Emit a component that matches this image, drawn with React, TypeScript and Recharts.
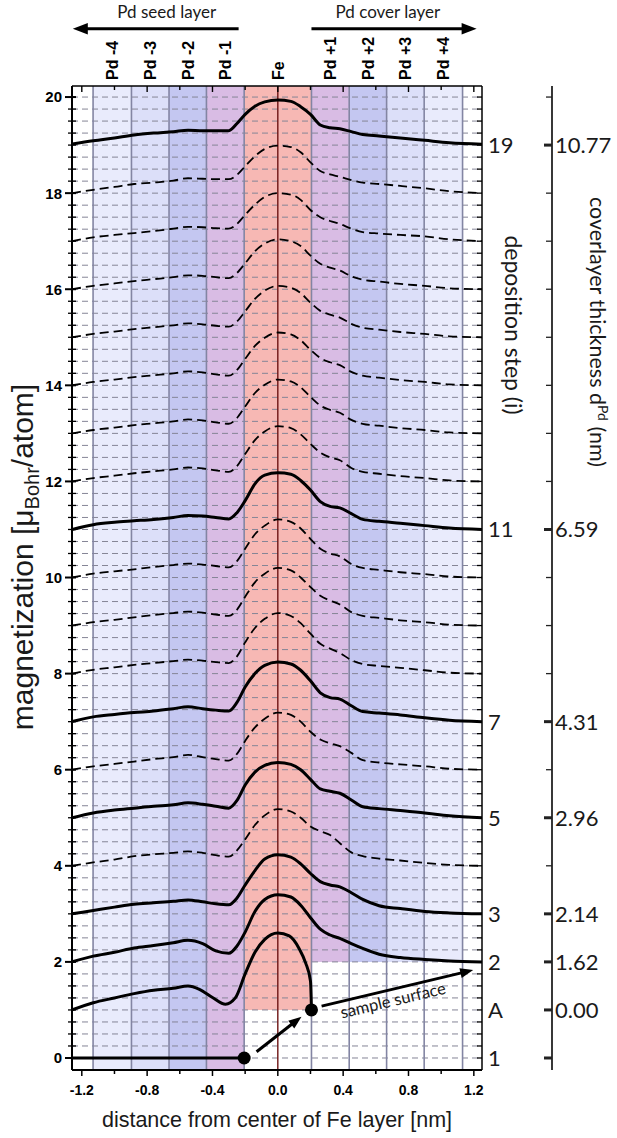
import React from "react";
import {
  ComposedChart,
  Line,
  XAxis,
  YAxis,
  ReferenceArea,
  ReferenceLine,
  ReferenceDot,
} from "recharts";

// x positions (nm) shared by most profiles
const xGrid = [
  -1.26, -1.13, -1.0, -0.88, -0.76, -0.64, -0.55, -0.46, -0.38, -0.3, -0.25, -0.2, -0.14, -0.08, 0,
  0.08, 0.14, 0.2, 0.26, 0.32, 0.38, 0.45, 0.52, 0.62, 0.75, 0.9, 1.05, 1.25,
];
const xStepA = [
  -1.26, -1.13, -1.0, -0.88, -0.76, -0.64, -0.55, -0.48, -0.4, -0.32, -0.26, -0.2, -0.14, -0.08, -0.04,
  0, 0.07, 0.13, 0.17, 0.2, 0.206,
];
const xStep1 = [-1.26, -0.206];

// magnetization profiles, one per deposition step (offset by step)
const step1 = [0, 0];
const stepA = [1.0, 1.15, 1.25, 1.34, 1.41, 1.45, 1.5, 1.43, 1.26, 1.12, 1.25, 1.75, 2.2, 2.47, 2.57, 2.6, 2.54, 2.28, 1.98, 1.6, 1.0];
const step2 = [2.0, 2.12, 2.2, 2.29, 2.34, 2.4, 2.45, 2.38, 2.23, 2.18, 2.33, 2.62, 3.05, 3.3, 3.4, 3.35, 3.18, 2.92, 2.68, 2.56, 2.49, 2.38, 2.28, 2.16, 2.09, 2.05, 2.02, 2.0];
const step3 = [3.0, 3.07, 3.14, 3.2, 3.23, 3.26, 3.29, 3.25, 3.21, 3.19, 3.33, 3.6, 3.9, 4.14, 4.23, 4.18, 4.04, 3.84, 3.67, 3.6, 3.56, 3.44, 3.3, 3.17, 3.11, 3.05, 3.02, 3.0];
const step4 = [4.0, 4.07, 4.13, 4.2, 4.24, 4.27, 4.3, 4.27, 4.22, 4.19, 4.32, 4.55, 4.85, 5.05, 5.18, 5.13, 5.0, 4.82, 4.72, 4.64, 4.47, 4.28, 4.2, 4.15, 4.11, 4.06, 4.02, 4.0];
const step5 = [5.0, 5.1, 5.16, 5.2, 5.24, 5.27, 5.31, 5.28, 5.24, 5.2, 5.36, 5.68, 5.95, 6.09, 6.15, 6.11, 6.0, 5.8, 5.6, 5.55, 5.51, 5.37, 5.23, 5.19, 5.15, 5.1, 5.04, 5.0];
const step6 = [6.0, 6.07, 6.12, 6.17, 6.22, 6.26, 6.31, 6.26, 6.22, 6.19, 6.33, 6.6, 6.88, 7.06, 7.19, 7.14, 7.0, 6.79, 6.63, 6.55, 6.49, 6.35, 6.2, 6.15, 6.11, 6.07, 6.02, 6.0];
const step7 = [7.0, 7.1, 7.15, 7.19, 7.22, 7.27, 7.31, 7.27, 7.24, 7.22, 7.4, 7.72, 8.0, 8.17, 8.24, 8.2, 8.07, 7.85, 7.6, 7.5, 7.47, 7.33, 7.21, 7.18, 7.14, 7.08, 7.03, 7.0];
const step8 = [8.0, 8.08, 8.13, 8.18, 8.22, 8.26, 8.29, 8.27, 8.24, 8.22, 8.36, 8.65, 8.95, 9.14, 9.26, 9.2, 9.05, 8.83, 8.62, 8.52, 8.43, 8.28, 8.2, 8.16, 8.12, 8.07, 8.02, 8.0];
const step9 = [9.0, 9.07, 9.12, 9.17, 9.22, 9.26, 9.29, 9.27, 9.23, 9.2, 9.33, 9.6, 9.9, 10.08, 10.2, 10.15, 10.0, 9.8, 9.62, 9.52, 9.44, 9.28, 9.2, 9.16, 9.11, 9.07, 9.02, 9.0];
const step10 = [10.0, 10.08, 10.13, 10.17, 10.22, 10.26, 10.29, 10.27, 10.24, 10.21, 10.34, 10.6, 10.9, 11.08, 11.21, 11.16, 11.02, 10.8, 10.6, 10.5, 10.44, 10.28, 10.2, 10.16, 10.11, 10.07, 10.02, 10.0];
const step11 = [11.0, 11.1, 11.15, 11.18, 11.21, 11.25, 11.29, 11.28, 11.25, 11.22, 11.35, 11.6, 11.95, 12.13, 12.18, 12.15, 12.02, 11.82, 11.58, 11.48, 11.45, 11.33, 11.21, 11.17, 11.13, 11.08, 11.03, 11.0];
const step12 = [12.0, 12.07, 12.12, 12.17, 12.21, 12.25, 12.29, 12.27, 12.23, 12.2, 12.32, 12.57, 12.86, 13.04, 13.15, 13.11, 12.98, 12.78, 12.6, 12.5, 12.44, 12.28, 12.2, 12.16, 12.11, 12.07, 12.02, 12.0];
const step13 = [13.0, 13.07, 13.12, 13.17, 13.21, 13.25, 13.29, 13.27, 13.23, 13.2, 13.32, 13.56, 13.84, 14.01, 14.12, 14.08, 13.96, 13.76, 13.58, 13.49, 13.43, 13.28, 13.2, 13.16, 13.11, 13.07, 13.02, 13.0];
const step14 = [14.0, 14.07, 14.12, 14.17, 14.21, 14.25, 14.29, 14.27, 14.23, 14.2, 14.32, 14.55, 14.82, 14.99, 15.1, 15.06, 14.94, 14.74, 14.57, 14.48, 14.42, 14.28, 14.2, 14.16, 14.11, 14.07, 14.02, 14.0];
const step15 = [15.0, 15.07, 15.12, 15.17, 15.21, 15.25, 15.29, 15.27, 15.24, 15.22, 15.33, 15.54, 15.8, 15.97, 16.07, 16.03, 15.92, 15.72, 15.55, 15.47, 15.41, 15.28, 15.2, 15.16, 15.11, 15.07, 15.02, 15.0];
const step16 = [16.0, 16.07, 16.12, 16.17, 16.21, 16.25, 16.29, 16.28, 16.25, 16.23, 16.34, 16.54, 16.79, 16.95, 17.04, 17.0, 16.9, 16.7, 16.53, 16.45, 16.39, 16.27, 16.2, 16.16, 16.11, 16.07, 16.02, 16.0];
const step17 = [17.0, 17.08, 17.13, 17.17, 17.21, 17.26, 17.3, 17.29, 17.27, 17.26, 17.36, 17.55, 17.76, 17.92, 18.0, 17.97, 17.86, 17.65, 17.5, 17.42, 17.36, 17.26, 17.19, 17.16, 17.13, 17.1, 17.04, 17.0];
const step18 = [18.0, 18.07, 18.13, 18.19, 18.22, 18.26, 18.31, 18.3, 18.29, 18.29, 18.38, 18.56, 18.77, 18.92, 18.99, 18.96, 18.85, 18.64, 18.46, 18.39, 18.34, 18.27, 18.22, 18.19, 18.15, 18.1, 18.04, 18.0];
const step19 = [19.02, 19.09, 19.15, 19.21, 19.25, 19.28, 19.31, 19.3, 19.3, 19.3, 19.45, 19.64, 19.81, 19.9, 19.94, 19.91, 19.8, 19.64, 19.42, 19.36, 19.34, 19.28, 19.22, 19.19, 19.15, 19.1, 19.05, 19.02];

const curves = [
  { id: "1", xs: xStep1, ys: step1, solid: true },
  { id: "A", xs: xStepA, ys: stepA, solid: true },
  { id: "2", xs: xGrid, ys: step2, solid: true },
  { id: "3", xs: xGrid, ys: step3, solid: true },
  { id: "4", xs: xGrid, ys: step4, solid: false },
  { id: "5", xs: xGrid, ys: step5, solid: true },
  { id: "6", xs: xGrid, ys: step6, solid: false },
  { id: "7", xs: xGrid, ys: step7, solid: true },
  { id: "8", xs: xGrid, ys: step8, solid: false },
  { id: "9", xs: xGrid, ys: step9, solid: false },
  { id: "10", xs: xGrid, ys: step10, solid: false },
  { id: "11", xs: xGrid, ys: step11, solid: true },
  { id: "12", xs: xGrid, ys: step12, solid: false },
  { id: "13", xs: xGrid, ys: step13, solid: false },
  { id: "14", xs: xGrid, ys: step14, solid: false },
  { id: "15", xs: xGrid, ys: step15, solid: false },
  { id: "16", xs: xGrid, ys: step16, solid: false },
  { id: "17", xs: xGrid, ys: step17, solid: false },
  { id: "18", xs: xGrid, ys: step18, solid: false },
  { id: "19", xs: xGrid, ys: step19, solid: true },
];

// atomic layers
const layerEdges = [-1.131, -0.896, -0.666, -0.437, -0.206, 0.206, 0.437, 0.666, 0.896, 1.131];
const layerNames = ["Pd -4", "Pd -3", "Pd -2", "Pd -1", "Fe", "Pd +1", "Pd +2", "Pd +3", "Pd +4"];
const layerCenters = [-1.013, -0.781, -0.551, -0.321, 0, 0.321, 0.551, 0.781, 1.013];
const layerColors = ["#e9ebfc", "#dcdff9", "#c4c7f1", "#d9bce4", "#f7b8b4", "#d9bce4", "#c4c7f1", "#dcdff9", "#e9ebfc"];
const layerFloor = [-0.25, -0.25, -0.25, -0.25, 1, 2, 2, 2, 2];

// right-hand scales
const stepLevels = [0, 1, 2, 3, 5, 7, 11, 19];
const stepLabels = ["1", "A", "2", "3", "5", "7", "11", "19"];
const coverThickness = ["", "0.00", "1.62", "2.14", "2.96", "4.31", "6.59", "10.77"];

const X_DOMAIN: [number, number] = [-1.26, 1.25];
const Y_DOMAIN: [number, number] = [-0.25, 20.23];
const Y_TOP_TEXT = 21.77;
const Y_TOP_ARROW = 21.42;

const quarterTicks = Array.from({ length: 81 }, (_, i) => i * 0.25);
const unitTicks = Array.from({ length: 21 }, (_, i) => i);
const xTicks = Array.from({ length: 13 }, (_, i) => Math.round((-1.2 + i * 0.2) * 10) / 10);

const BOLD = "'Liberation Sans', Arial, sans-serif";
const LIGHT = "Lato, 'Open Sans', sans-serif";

function LeftTick(props: any) {
  const { x, y, payload } = props;
  const v = payload.value;
  const major = Math.abs(v % 2) < 1e-6;
  return (
    <g>
      <line x1={x - (major ? 7 : 4)} x2={x + 4} y1={y} y2={y} stroke="#000" strokeWidth={major ? 2 : 1.3} />
      {major && (
        <text x={x - 10} y={y} dy="0.36em" textAnchor="end" fontFamily={BOLD} fontWeight="bold" fontSize={15} fill="#000">
          {v}
        </text>
      )}
    </g>
  );
}

function BottomTick(props: any) {
  const { x, y, payload } = props;
  const v = payload.value;
  const major = Math.round(Math.abs(v) * 10) % 4 === 0;
  return (
    <g>
      <line x1={x} x2={x} y1={y} y2={y + (major ? 6 : 4)} stroke="#000" strokeWidth={1.5} />
      {major && (
        <text x={x} y={y + 25} textAnchor="middle" fontFamily={BOLD} fontWeight="bold" fontSize={14} fill="#000">
          {v.toFixed(1)}
        </text>
      )}
    </g>
  );
}

function RightTick(props: any) {
  const { x, y, payload } = props;
  const v = payload.value;
  const k = stepLevels.indexOf(v);
  return (
    <g>
      <line x1={x - 5} x2={x} y1={y} y2={y} stroke="#000" strokeWidth={1.3} />
      {k >= 0 && (
        <text x={x + 6} y={y} dy="0.36em" textAnchor="start" fontFamily={LIGHT} fontSize={22} fill="#1a1a1a">
          {stepLabels[k]}
        </text>
      )}
    </g>
  );
}

function ThickTick(props: any) {
  const { x, y, payload } = props;
  const v = payload.value;
  const k = stepLevels.indexOf(v);
  const major = k >= 0;
  return (
    <g>
      <line x1={x - (major ? 8 : 6)} x2={x} y1={y} y2={y} stroke="#222" strokeWidth={major ? 3 : 1.3} />
      {major && coverThickness[k] && (
        <text x={x + 3} y={y} dy="0.36em" textAnchor="start" fontFamily={LIGHT} fontSize={22} fill="#1a1a1a">
          {coverThickness[k]}
        </text>
      )}
    </g>
  );
}

// short inward tick hanging from the top frame
function topTickShape(len: number) {
  return (p: any) => <line x1={p.x1} x2={p.x1} y1={p.y1} y2={p.y1 + len} stroke="#000" strokeWidth={1.4} />;
}

function layerLabelShape(text: string) {
  return (p: any) => {
    const ty = p.cy - 6;
    return (
      <text
        transform={`rotate(-90 ${p.cx} ${ty})`}
        x={p.cx}
        y={ty}
        dy="0.36em"
        textAnchor="start"
        fontFamily={BOLD}
        fontWeight="bold"
        fontSize={16}
        fill="#000"
      >
        {text}
      </text>
    );
  };
}

function arrowShape(head: number, width: number) {
  return (p: any) => {
    const { x1, y1, x2, y2 } = p;
    const dx = x2 - x1;
    const dy = y2 - y1;
    const len = Math.hypot(dx, dy) || 1;
    const ux = dx / len;
    const uy = dy / len;
    const bx = x2 - ux * head;
    const by = y2 - uy * head;
    const hw = head * 0.38;
    const pts = `${x2},${y2} ${bx - uy * hw},${by + ux * hw} ${bx + uy * hw},${by - ux * hw}`;
    return (
      <g>
        <line x1={x1} y1={y1} x2={bx + ux} y2={by + uy} stroke="#000" strokeWidth={width} />
        <polygon points={pts} fill="#000" />
      </g>
    );
  };
}

function textShape(text: string, size: number, rotate = 0) {
  return (p: any) => (
    <text
      x={p.cx}
      y={p.cy}
      dy="0.35em"
      textAnchor="middle"
      transform={rotate ? `rotate(${rotate} ${p.cx} ${p.cy})` : undefined}
      fontFamily={LIGHT}
      fontSize={size}
      fill="#1a1a1a"
    >
      {text}
    </text>
  );
}

export default function App() {
  return (
    <div style={{ position: "absolute", left: 0, top: 0, width: 617, height: 1138, background: "#fff" }}>
      <ComposedChart width={617} height={1138} margin={{ top: 86, right: 0, bottom: 0, left: 0 }}>
        <XAxis
          type="number"
          dataKey="x"
          domain={X_DOMAIN}
          allowDataOverflow
          ticks={xTicks}
          interval={0}
          height={68}
          tickSize={0}
          tickMargin={0}
          tickLine={false}
          axisLine={{ stroke: "#000", strokeWidth: 2 }}
          tick={<BottomTick />}
          label={(p: any) => {
            const vb = p.viewBox;
            return (
              <text x={vb.x + vb.width / 2} y={vb.y + 57} textAnchor="middle" fontFamily={BOLD} fontSize={21.5} fill="#1a1a1a">
                distance from center of Fe layer [nm]
              </text>
            );
          }}
        />
        <YAxis
          type="number"
          domain={Y_DOMAIN}
          allowDataOverflow
          ticks={quarterTicks}
          interval={0}
          width={72}
          tickSize={0}
          tickMargin={0}
          tickLine={false}
          axisLine={{ stroke: "#000", strokeWidth: 2 }}
          tick={<LeftTick />}
          label={(p: any) => {
            const vb = p.viewBox;
            const cx = vb.x + 22;
            const cy = vb.y + 471;
            return (
              <text
                transform={`rotate(-90 ${cx} ${cy})`}
                x={cx}
                y={cy}
                dy="0.35em"
                textAnchor="middle"
                fontFamily={BOLD}
                fontSize={30}
                fill="#1a1a1a"
              >
                magnetization [μ
                <tspan dy={6} fontSize={20}>
                  Bohr
                </tspan>
                <tspan dy={-6}>/atom]</tspan>
              </text>
            );
          }}
        />
        <YAxis
          yAxisId="right"
          orientation="right"
          type="number"
          domain={Y_DOMAIN}
          allowDataOverflow
          ticks={quarterTicks}
          interval={0}
          width={70}
          tickSize={0}
          tickMargin={0}
          tickLine={false}
          axisLine={{ stroke: "#000", strokeWidth: 1.5 }}
          tick={<RightTick />}
          label={(p: any) => {
            const vb = p.viewBox;
            const cx = vb.x + 31;
            const cy = vb.y + 239;
            return (
              <text transform={`rotate(90 ${cx} ${cy})`} x={cx} y={cy} dy="0.35em" textAnchor="middle" fontFamily={LIGHT} fontSize={23} fill="#1a1a1a">
                deposition step (i)
              </text>
            );
          }}
        />
        <YAxis
          yAxisId="thick"
          orientation="right"
          type="number"
          domain={Y_DOMAIN}
          allowDataOverflow
          ticks={unitTicks}
          interval={0}
          width={65}
          tickSize={0}
          tickMargin={0}
          tickLine={false}
          axisLine={{ stroke: "#222", strokeWidth: 1.8 }}
          tick={<ThickTick />}
          label={(p: any) => {
            const vb = p.viewBox;
            const cx = vb.x + 46;
            const cy = vb.y + 246;
            return (
              <text transform={`rotate(90 ${cx} ${cy})`} x={cx} y={cy} dy="0.35em" textAnchor="middle" fontFamily={LIGHT} fontSize={21.5} fill="#1a1a1a">
                coverlayer thickness d
                <tspan dy={-8} fontSize={14}>
                  Pd
                </tspan>
                <tspan dy={8}> (nm)</tspan>
              </text>
            );
          }}
        />

        {layerNames.map((n, i) => (
          <ReferenceArea
            key={"band" + n}
            x1={layerEdges[i]}
            x2={layerEdges[i + 1]}
            y1={layerFloor[i]}
            y2={Y_DOMAIN[1]}
            fill={layerColors[i]}
            fillOpacity={1}
            stroke="none"
            ifOverflow="hidden"
          />
        ))}
        {quarterTicks.map((v) => (
          <ReferenceLine key={"g" + v} y={v} stroke="#858596" strokeWidth={1} strokeDasharray="6 4" />
        ))}
        {layerEdges.map((e) => (
          <ReferenceLine key={"e" + e} x={e} stroke="#8385a3" strokeWidth={1.6} />
        ))}
        <ReferenceLine x={0} stroke="#6e1414" strokeWidth={1.4} />

        {/* top frame with inward ticks, layer names above it */}
        <ReferenceLine y={Y_DOMAIN[1]} stroke="#000" strokeWidth={1.5} />
        {xTicks.map((v) => (
          <ReferenceLine
            key={"tt" + v}
            segment={[{ x: v, y: Y_DOMAIN[1] }, { x: v, y: 20 }]}
            ifOverflow="visible"
            shape={topTickShape(Math.round(Math.abs(v) * 10) % 4 === 0 ? 6 : 4)}
          />
        ))}
        {layerNames.map((n, i) => (
          <ReferenceDot key={"ln" + n} x={layerCenters[i]} y={Y_DOMAIN[1]} r={0} ifOverflow="visible" shape={layerLabelShape(n)} />
        ))}

        {curves.map((c) => (
          <Line
            key={c.id}
            data={c.xs.map((x, i) => ({ x, y: c.ys[i] }))}
            dataKey="y"
            type="monotone"
            stroke="#000"
            strokeWidth={c.solid ? 3 : 1.8}
            strokeDasharray={c.solid ? undefined : "9 5"}
            dot={false}
            activeDot={false}
            isAnimationActive={false}
          />
        ))}

        <ReferenceDot x={-0.206} y={0} r={6.5} fill="#000" stroke="none" />
        <ReferenceDot x={0.206} y={1} r={6.5} fill="#000" stroke="none" />
        <ReferenceLine segment={[{ x: -0.13, y: 0.13 }, { x: 0.145, y: 0.86 }]} ifOverflow="visible" shape={arrowShape(13, 3)} />
        <ReferenceLine segment={[{ x: 0.268, y: 1.08 }, { x: 1.196, y: 1.83 }]} ifOverflow="visible" shape={arrowShape(13, 3)} />
        <ReferenceDot x={0.706} y={1.2} r={0} ifOverflow="visible" shape={textShape("sample surface", 16.5, -13.5)} />

        <ReferenceLine segment={[{ x: -0.24, y: Y_TOP_ARROW }, { x: -1.255, y: Y_TOP_ARROW }]} ifOverflow="visible" shape={arrowShape(15, 3)} />
        <ReferenceLine segment={[{ x: 0.206, y: Y_TOP_ARROW }, { x: 1.217, y: Y_TOP_ARROW }]} ifOverflow="visible" shape={arrowShape(15, 3)} />
        <ReferenceDot x={-0.68} y={Y_TOP_TEXT} r={0} ifOverflow="visible" shape={textShape("Pd seed layer", 17)} />
        <ReferenceDot x={0.674} y={Y_TOP_TEXT} r={0} ifOverflow="visible" shape={textShape("Pd cover layer", 17)} />
      </ComposedChart>
    </div>
  );
}
